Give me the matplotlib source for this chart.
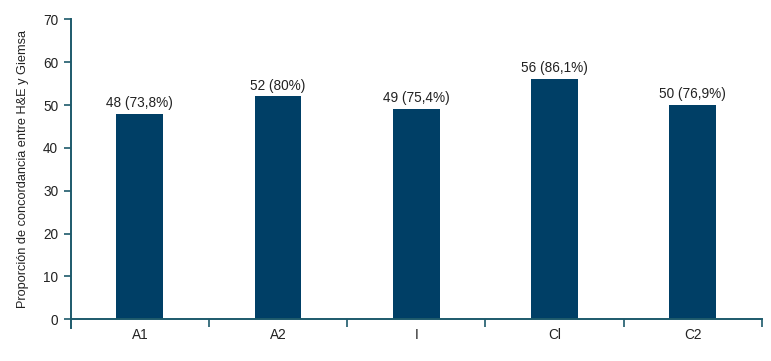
import matplotlib
matplotlib.use("Agg")
import matplotlib.pyplot as plt
import numpy as np

categories = ["A1", "A2", "I", "Cl", "C2"]
values = [48, 52, 49, 56, 50]
labels = ["48 (73,8%)", "52 (80%)", "49 (75,4%)", "56 (86,1%)", "50 (76,9%)"]

plt.rcParams['font.family'] = ['Liberation Sans', 'DejaVu Sans']
axis_color = "#1d5a6b"
bar_color = "#003f66"
text_color = "#222222"
fs = 9.8

fig = plt.figure(figsize=(7.71, 3.61), dpi=100)
ax = fig.add_axes([70.7/771, 1-319.3/361, 691/771, 300/361])
x = np.arange(len(categories))
ax.bar(x, values, width=0.34, color=bar_color)
for xi, v, l in zip(x, values, labels):
    ax.text(xi, v + 0.9, l, ha="center", va="bottom", fontsize=fs, color=text_color)

ax.set_xlim(-0.5, len(categories) - 0.5)
ax.set_ylim(0, 70)
ax.set_yticks(range(0, 71, 10))
ax.set_xticks(x)
ax.set_xticklabels(categories, fontsize=fs, color=text_color)
ax.set_xticks(np.arange(-0.5, len(categories), 1.0)[1:], minor=True)
ax.tick_params(axis="x", which="major", length=0, pad=6)
ax.tick_params(axis="x", which="minor", length=6, width=1.2, color=axis_color, direction="out")
ax.tick_params(axis="y", length=5, width=1.2, color=axis_color, labelsize=fs, labelcolor=text_color, pad=4)
for s in ["top", "right"]:
    ax.spines[s].set_visible(False)
for s in ["left", "bottom"]:
    ax.spines[s].set_color(axis_color)
    ax.spines[s].set_linewidth(1.4)
ax.spines["left"].set_bounds(-2.0, 70)
ax.set_ylabel("Proporción de concordancia entre H&E y Giemsa", fontsize=9.2, color=text_color, labelpad=10)

fig.savefig("out.png", dpi=100)
